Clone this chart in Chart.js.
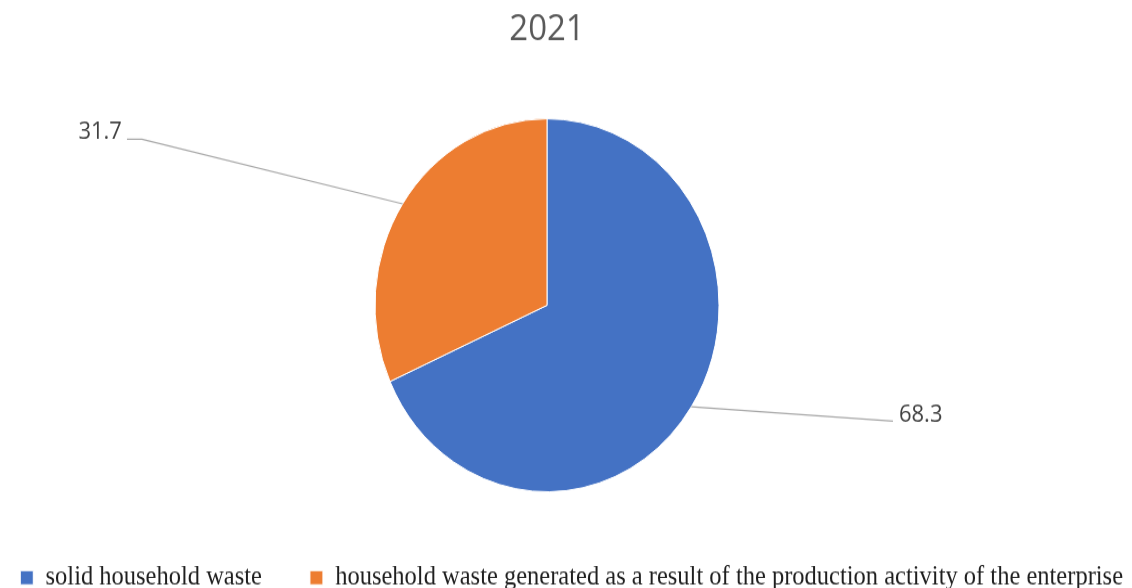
<!DOCTYPE html>
<html>
<head>
<meta charset="utf-8">
<script src="https://cdn.jsdelivr.net/npm/chart.js@4.4.0/dist/chart.umd.min.js"></script>
<style>
  html, body { margin: 0; padding: 0; background: #fff; overflow: hidden; }
  #frame { position: relative; width: 1132px; height: 588px; overflow: hidden; }
  /* the source picture is stretched a little in height, so the drawing is too */
  #stretch { position: absolute; left: -77px; top: 0; transform: scaleY(1.0843); transform-origin: 0 0; }
</style>
</head>
<body>
<div id="frame">
  <div id="stretch">
    <canvas id="pieChart" width="1248" height="555"></canvas>
  </div>
</div>
<script>
// ---------- Data ----------
const chartTitle = "2021";
const categories = [
  "solid household waste",
  "household waste generated as a result of the production activity of the enterprise"
];
const shares = [68.3, 31.7];
const sliceColors = ["#4472C4", "#ED7D31"];

// ---------- Value labels with leader lines ----------
const leaderLines = {
  id: 'leaderLines',
  afterDatasetsDraw(chart, args, opts) {
    const ctx = chart.ctx;
    const values = chart.data.datasets[0].data;
    chart.getDatasetMeta(0).data.forEach((arc, i) => {
      const p = arc.getProps(['x', 'y', 'startAngle', 'endAngle', 'outerRadius'], true);
      const mid = (p.startAngle + p.endAngle) / 2;
      const ex = p.x + Math.cos(mid) * p.outerRadius;
      const ey = p.y + Math.sin(mid) * p.outerRadius;
      const s = opts.slices[i];
      const jx = ex + s.dx, jy = ey + s.dy;
      const tx = jx + s.tail;

      ctx.save();
      ctx.strokeStyle = opts.lineColor;
      ctx.lineWidth = 1.2;
      ctx.beginPath();
      ctx.moveTo(ex, ey);
      ctx.lineTo(jx, jy);
      if (s.tail) ctx.lineTo(tx, jy);
      ctx.stroke();

      ctx.font = opts.font;
      ctx.fillStyle = opts.color;
      ctx.textBaseline = 'middle';
      ctx.textAlign = s.dx < 0 ? 'right' : 'left';
      ctx.fillText(values[i].toFixed(1), tx + s.tx, jy + s.ty);
      ctx.restore();
    });
  }
};

// ---------- Chart ----------
const ctx = document.getElementById('pieChart').getContext('2d');
new Chart(ctx, {
  type: 'pie',
  data: {
    labels: categories,
    datasets: [{
      data: shares,
      backgroundColor: sliceColors,
      borderColor: '#ffffff',
      borderWidth: 1,
      radius: 172
    }]
  },
  options: {
    responsive: false,
    animation: false,
    layout: { padding: 0 },
    plugins: {
      title: {
        display: true,
        text: chartTitle,
        color: '#595959',
        font: { family: 'Open Sans', size: 33, weight: 'normal' },
        padding: { top: 8, bottom: 43 }
      },
      legend: {
        position: 'bottom',
        align: 'end',
        labels: {
          boxWidth: 13,
          boxHeight: 13,
          padding: 48,
          color: '#1f1f1f',
          font: { family: 'Liberation Serif', size: 24.5 }
        }
      },
      tooltip: { enabled: false },
      leaderLines: {
        lineColor: '#a6a6a6',
        color: '#404040',
        font: '22px "Open Sans"',
        slices: [
          { dx: 201.6, dy: 13.3, tail: 0, tx: 6, ty: -6 },
          { dx: -260.7, dy: -59.7, tail: -15, tx: -5, ty: -7 }
        ]
      }
    }
  },
  plugins: [leaderLines]
});
</script>
</body>
</html>
